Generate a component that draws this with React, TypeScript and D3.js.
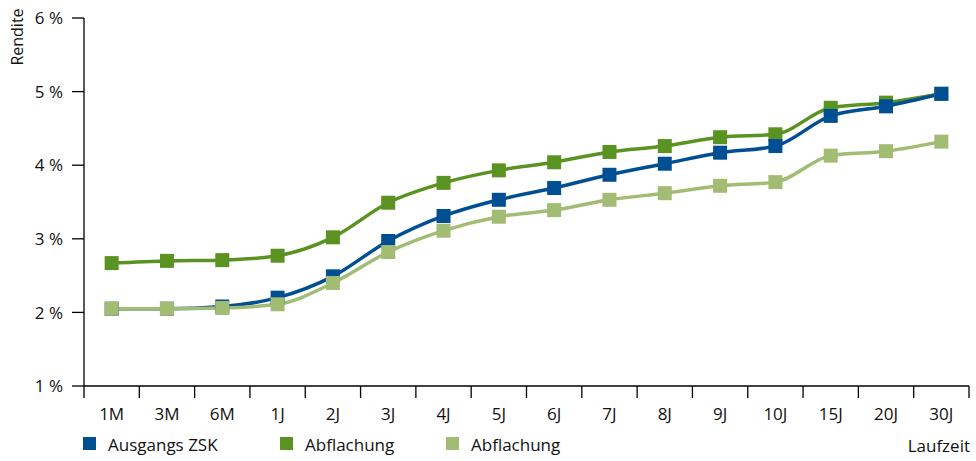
import React from "react";
import * as d3 from "d3";

const categories = ["1M", "3M", "6M", "1J", "2J", "3J", "4J", "5J", "6J", "7J", "8J", "9J", "10J", "15J", "20J", "30J"];
const ausgangs = [2.05, 2.05, 2.08, 2.2, 2.49, 2.97, 3.31, 3.53, 3.69, 3.87, 4.02, 4.17, 4.26, 4.67, 4.8, 4.97];
const abflachung1 = [2.67, 2.7, 2.71, 2.77, 3.02, 3.49, 3.76, 3.93, 4.04, 4.18, 4.26, 4.38, 4.42, 4.78, 4.85, 4.97];
const abflachung2 = [2.05, 2.05, 2.06, 2.11, 2.4, 2.82, 3.11, 3.3, 3.39, 3.53, 3.62, 3.72, 3.77, 4.13, 4.19, 4.32];
const yTicks = [1, 2, 3, 4, 5, 6];
const seriesNames = ["Ausgangs ZSK", "Abflachung", "Abflachung"];

const colors = ["#004f93", "#5a9322", "#a2bc74"];
const font = "'Open Sans', sans-serif";

export default function App() {
  const W = 976, H = 461;
  const left = 84, right = 969, top = 18, bottom = 386;
  const x = d3.scaleBand<string>().domain(categories).range([left, right]);
  const y = d3.scaleLinear().domain([1, 6]).range([bottom, top]);
  const cx = (i: number) => (x(categories[i]) as number) + x.bandwidth() / 2;
  const line = d3
    .line<number>()
    .x((_, i) => cx(i))
    .y((d) => y(d))
    .curve(d3.curveMonotoneX);
  const order = [1, 0, 2];
  const series = [ausgangs, abflachung1, abflachung2];
  const ms = 14;
  const legendX = [83, 280, 446];
  return (
    <svg width={W} height={H} style={{ position: "absolute", left: 0, top: 0 }} fontFamily={font}>
      {/* y axis */}
      <line x1={left} x2={left} y1={top} y2={bottom} stroke="#000" strokeWidth={1.3} />
      {yTicks.map((t) => (
        <g key={t}>
          <line x1={left - 12} x2={left} y1={y(t)} y2={y(t)} stroke="#000" strokeWidth={1.3} />
          <text x={63} y={y(t)} dy="0.36em" textAnchor="end" fontSize={17} fill="#111">
            {t + " %"}
          </text>
        </g>
      ))}
      <text transform={`translate(23,37) rotate(-90)`} textAnchor="middle" fontSize={16} fill="#111">
        Rendite
      </text>
      {/* x axis */}
      <line x1={left} x2={right} y1={bottom} y2={bottom} stroke="#000" strokeWidth={1.3} />
      <line x1={left} x2={left} y1={bottom} y2={bottom + 12} stroke="#000" strokeWidth={1.3} />
      {categories.map((c, i) => (
        <line key={"t" + i} x1={(x(c) as number) + x.bandwidth()} x2={(x(c) as number) + x.bandwidth()} y1={bottom} y2={bottom + 12} stroke="#000" strokeWidth={1.3} />
      ))}
      {categories.map((c, i) => (
        <text key={c} x={cx(i)} y={420} textAnchor="middle" fontSize={17} fill="#111">
          {c}
        </text>
      ))}
      {/* lines */}
      {order.map((k) => (
        <path key={"l" + k} d={line(series[k]) || ""} fill="none" stroke={colors[k]} strokeWidth={3.5} />
      ))}
      {order.map((k) =>
        series[k].map((v, i) => (
          <rect key={"m" + k + "-" + i} x={cx(i) - ms / 2} y={y(v) - ms / 2} width={ms} height={ms} fill={colors[k]} />
        ))
      )}
      {/* legend */}
      {seriesNames.map((n, k) => (
        <g key={"lg" + k}>
          <rect x={legendX[k]} y={437} width={13} height={13} fill={colors[k]} />
          <text x={legendX[k] + 25} y={451} fontSize={17} fill="#111">
            {n}
          </text>
        </g>
      ))}
      <text x={970} y={452} textAnchor="end" fontSize={17} fill="#111">
        Laufzeit
      </text>
    </svg>
  );
}
